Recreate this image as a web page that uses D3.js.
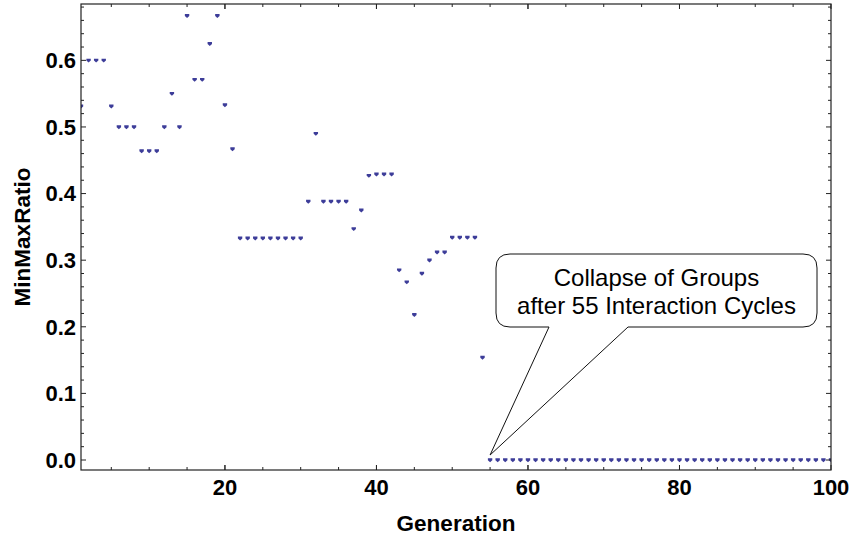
<!DOCTYPE html>
<html>
<head>
<meta charset="utf-8">
<script src="https://cdn.jsdelivr.net/npm/d3@7"></script>
<style>
  body { margin: 0; background: #fff; }
  text { font-family: "Liberation Sans", Arial, sans-serif; }
</style>
</head>
<body>
<div id="chart"></div>
<script>
// generations 1..100 and the ratio
const generations = d3.range(1, 101)
const ratios = [
  0.531, 0.6, 0.6, 0.6, 0.531, 0.5, 0.5, 0.5, 0.464, 0.464,
  0.464, 0.5, 0.55, 0.5, 0.667, 0.571, 0.571, 0.625, 0.667, 0.533,
  0.467, 0.333, 0.333, 0.333, 0.333, 0.333, 0.333, 0.333, 0.333, 0.333,
  0.388, 0.49, 0.388, 0.388, 0.388, 0.388, 0.347, 0.375, 0.427, 0.429,
  0.429, 0.429, 0.285, 0.267, 0.218, 0.28, 0.3, 0.312, 0.312, 0.334,
  0.334, 0.334, 0.334, 0.154, 0, 0, 0, 0, 0, 0,
  0, 0, 0, 0, 0, 0, 0, 0, 0, 0,
  0, 0, 0, 0, 0, 0, 0, 0, 0, 0,
  0, 0, 0, 0, 0, 0, 0, 0, 0, 0,
  0, 0, 0, 0, 0, 0, 0, 0, 0, 0
]
const xTicks = [20, 40, 60, 80, 100]
const yTicks = [0, 0.1, 0.2, 0.3, 0.4, 0.5, 0.6]
const calloutLines = ["Collapse of Groups", "after 55 Interaction Cycles"]
const collapseGen = 55

const W = 856, H = 539
const margin = { top: 4, right: 25, bottom: 69, left: 81 }
const width = W - margin.left - margin.right
const height = H - margin.top - margin.bottom

const svg = d3.select("#chart").append("svg")
  .attr("width", W)
  .attr("height", H)

const g = svg.append("g")
  .attr("transform", "translate(" + margin.left + "," + margin.top + ")")

const x = d3.scaleLinear().domain([1, 100]).range([0, width])
const y = d3.scaleLinear().domain([-0.015, 0.6846]).range([height, 0])

// clip so the first point is cut by the frame like the original
svg.append("clipPath").attr("id", "clip")
  .append("rect").attr("width", width).attr("height", height)

// points
const marker = "M-2.2,-1.7L2.2,-1.7L2.2,0.2L0,2.2L-2.2,0.2Z"
g.append("g").attr("clip-path", "url(#clip)")
  .selectAll("path")
  .data(generations)
  .join("path")
  .attr("d", marker)
  .attr("transform", (d, i) => "translate(" + x(d) + "," + y(ratios[i]) + ")")
  .attr("fill", "#3d3d99")

// frame
g.append("rect")
  .attr("width", width)
  .attr("height", height)
  .attr("fill", "none")
  .attr("stroke", "#222")
  .attr("stroke-width", 1.2)

// ticks (inside the frame, all four sides)
const xMinor = d3.range(5, 100, 5)
const yMinor = d3.range(0, 0.69, 0.02).filter(v => Math.abs(v * 10 - Math.round(v * 10)) > 1e-6)
const tickColor = "#222"

xMinor.concat(xTicks).forEach(v => {
  const len = xTicks.includes(v) ? 5 : 3
  g.append("line").attr("x1", x(v)).attr("x2", x(v)).attr("y1", height).attr("y2", height - len).attr("stroke", tickColor)
  g.append("line").attr("x1", x(v)).attr("x2", x(v)).attr("y1", 0).attr("y2", len).attr("stroke", tickColor)
})
yMinor.concat(yTicks).forEach(v => {
  const len = yTicks.includes(v) ? 5 : 3
  g.append("line").attr("y1", y(v)).attr("y2", y(v)).attr("x1", 0).attr("x2", len).attr("stroke", tickColor)
  g.append("line").attr("y1", y(v)).attr("y2", y(v)).attr("x1", width).attr("x2", width - len).attr("stroke", tickColor)
})

// tick labels
g.selectAll(".xlab")
  .data(xTicks)
  .join("text")
  .attr("x", d => x(d))
  .attr("y", height + 25)
  .attr("text-anchor", "middle")
  .attr("font-size", 22)
  .attr("font-weight", "bold")
  .text(d => d)

g.selectAll(".ylab")
  .data(yTicks)
  .join("text")
  .attr("x", -5)
  .attr("y", d => y(d))
  .attr("dy", "0.36em")
  .attr("text-anchor", "end")
  .attr("font-size", 22)
  .attr("font-weight", "bold")
  .text(d => d3.format(".1f")(d))

// axis titles
svg.append("text")
  .attr("x", margin.left + width / 2)
  .attr("y", 531)
  .attr("text-anchor", "middle")
  .attr("font-size", 22.5)
  .attr("font-weight", "bold")
  .text("Generation")

svg.append("text")
  .attr("transform", "translate(30," + (margin.top + height / 2) + ") rotate(-90)")
  .attr("text-anchor", "middle")
  .attr("font-size", 22.5)
  .attr("font-weight", "bold")
  .text("MinMaxRatio")

// callout bubble
const bx0 = 496, bx1 = 817, by0 = 254, by1 = 327, r = 14
const tipX = margin.left + x(collapseGen), tipY = margin.top + y(0) - 5
const p = d3.path()
p.moveTo(bx0 + r, by0)
p.lineTo(bx1 - r, by0)
p.quadraticCurveTo(bx1, by0, bx1, by0 + r)
p.lineTo(bx1, by1 - r)
p.quadraticCurveTo(bx1, by1, bx1 - r, by1)
p.lineTo(628, by1)
p.lineTo(tipX, tipY)
p.lineTo(549, by1)
p.lineTo(bx0 + r, by1)
p.quadraticCurveTo(bx0, by1, bx0, by1 - r)
p.lineTo(bx0, by0 + r)
p.quadraticCurveTo(bx0, by0, bx0 + r, by0)
p.closePath()

svg.append("path")
  .attr("d", p.toString())
  .attr("fill", "white")
  .attr("stroke", "#111")
  .attr("stroke-width", 1)

svg.selectAll(".callout")
  .data(calloutLines)
  .join("text")
  .attr("x", (bx0 + bx1) / 2)
  .attr("y", (d, i) => 286 + i * 28)
  .attr("text-anchor", "middle")
  .attr("font-size", 24)
  .text(d => d)
</script>
</body>
</html>
